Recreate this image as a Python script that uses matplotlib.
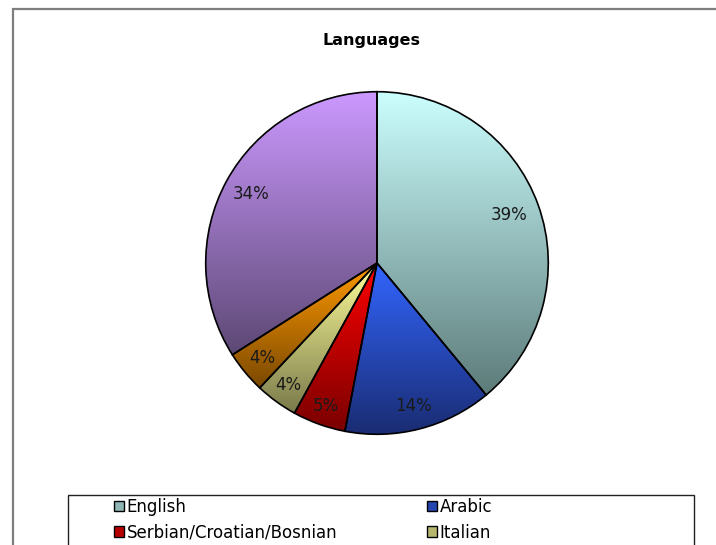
import numpy as np
import matplotlib
matplotlib.use("Agg")
import matplotlib.pyplot as plt
from matplotlib.patches import Rectangle
from matplotlib.colors import to_rgb

# ---- data ----
title = "Languages"
categories = ["English", "Arabic", "Serbian/Croatian/Bosnian", "Italian", "Other 1", "Other 2"]
values = [39, 14, 5, 4, 4, 34]
legend_visible = ["English", "Arabic", "Serbian/Croatian/Bosnian", "Italian"]

# ---- styles ----
top_colors = ["#CCFFFF", "#3366FF", "#FF0000", "#FFFF99", "#FF9900", "#CC99FF"]
bottom_colors = ["#5C7B79", "#1A2C72", "#7A0000", "#7A7A4C", "#7A4800", "#5C4874"]
label_dist = [0.82, 0.86, 0.89, 0.88, 0.87, 0.84]

W, H = 716, 545
fig = plt.figure(figsize=(W / 100, H / 100), dpi=100)
fig.patch.set_facecolor("white")
plt.rcParams["font.family"] = ["DejaVu Sans"]

def fx(px):
    return px / W

def fy(py):
    return 1 - py / H

# outer chart border (extends past right/bottom edge)
fig.patches.append(Rectangle((fx(13), fy(600)), fx(760) - fx(13), fy(9) - fy(600),
                             transform=fig.transFigure, fill=False,
                             edgecolor="#7F7F7F", lw=1.6, clip_on=False))

# title
fig.text(fx(372), fy(40), title, ha="center", va="center",
         fontsize=11.5, fontweight="bold")

# pie axes
cx, cy, r = 377, 263, 173
ax = fig.add_axes([fx(cx - r), fy(cy + r), (2 * r) / W, (2 * r) / H])
wedges, _ = ax.pie(values, startangle=90, counterclock=False, radius=1,
                   wedgeprops=dict(edgecolor="black", linewidth=1.2))

N = 256
for w, c0, c1 in zip(wedges, top_colors, bottom_colors):
    a = np.array(to_rgb(c0))
    b = np.array(to_rgb(c1))
    t = np.linspace(0, 1, N)[:, None]
    grad = (a[None, :] * (1 - t) + b[None, :] * t)[:, None, :]
    bb = w.get_path().get_extents()
    im = ax.imshow(grad, extent=[bb.x0, bb.x1, bb.y0, bb.y1], origin="upper",
                   aspect="auto", interpolation="bilinear", zorder=1)
    im.set_clip_path(w)
    w.set_facecolor("none")
    w.set_zorder(2)

# percentage labels
total = sum(values)
for w, v, d in zip(wedges, values, label_dist):
    ang = np.deg2rad((w.theta1 + w.theta2) / 2)
    ax.text(d * np.cos(ang), d * np.sin(ang), f"{round(100 * v / total)}%",
            ha="center", va="center", fontsize=12, color="#1a1a1a", zorder=3)

ax.set_xlim(-1.01, 1.01)
ax.set_ylim(-1.01, 1.01)
ax.axis("off")

# legend frame (extends past bottom edge)
fig.patches.append(Rectangle((fx(68), fy(600)), fx(694) - fx(68), fy(495) - fy(600),
                             transform=fig.transFigure, fill=False,
                             edgecolor="#222222", lw=1.0, clip_on=False))

def mid(c0, c1):
    a = np.array(to_rgb(c0)); b = np.array(to_rgb(c1))
    return tuple(0.45 * a + 0.55 * b)

handles = []
for name in legend_visible:
    i = categories.index(name)
    handles.append(Rectangle((0, 0), 1, 1, facecolor=mid(top_colors[i], bottom_colors[i]),
                             edgecolor="black", lw=1.0))

leg_kw = dict(loc="upper left", frameon=False, fontsize=12, borderpad=0,
              handlelength=0.6, handleheight=0.6, handletextpad=0.15,
              labelspacing=0.45, borderaxespad=0)
col1 = [0, 2]
col2 = [1, 3]
fig.legend([handles[i] for i in col1], [legend_visible[i] for i in col1],
           bbox_to_anchor=(fx(114), fy(498)), **leg_kw)
fig.legend([handles[i] for i in col2], [legend_visible[i] for i in col2],
           bbox_to_anchor=(fx(427), fy(498)), **leg_kw)

fig.savefig("out.png", dpi=100, facecolor="white")
